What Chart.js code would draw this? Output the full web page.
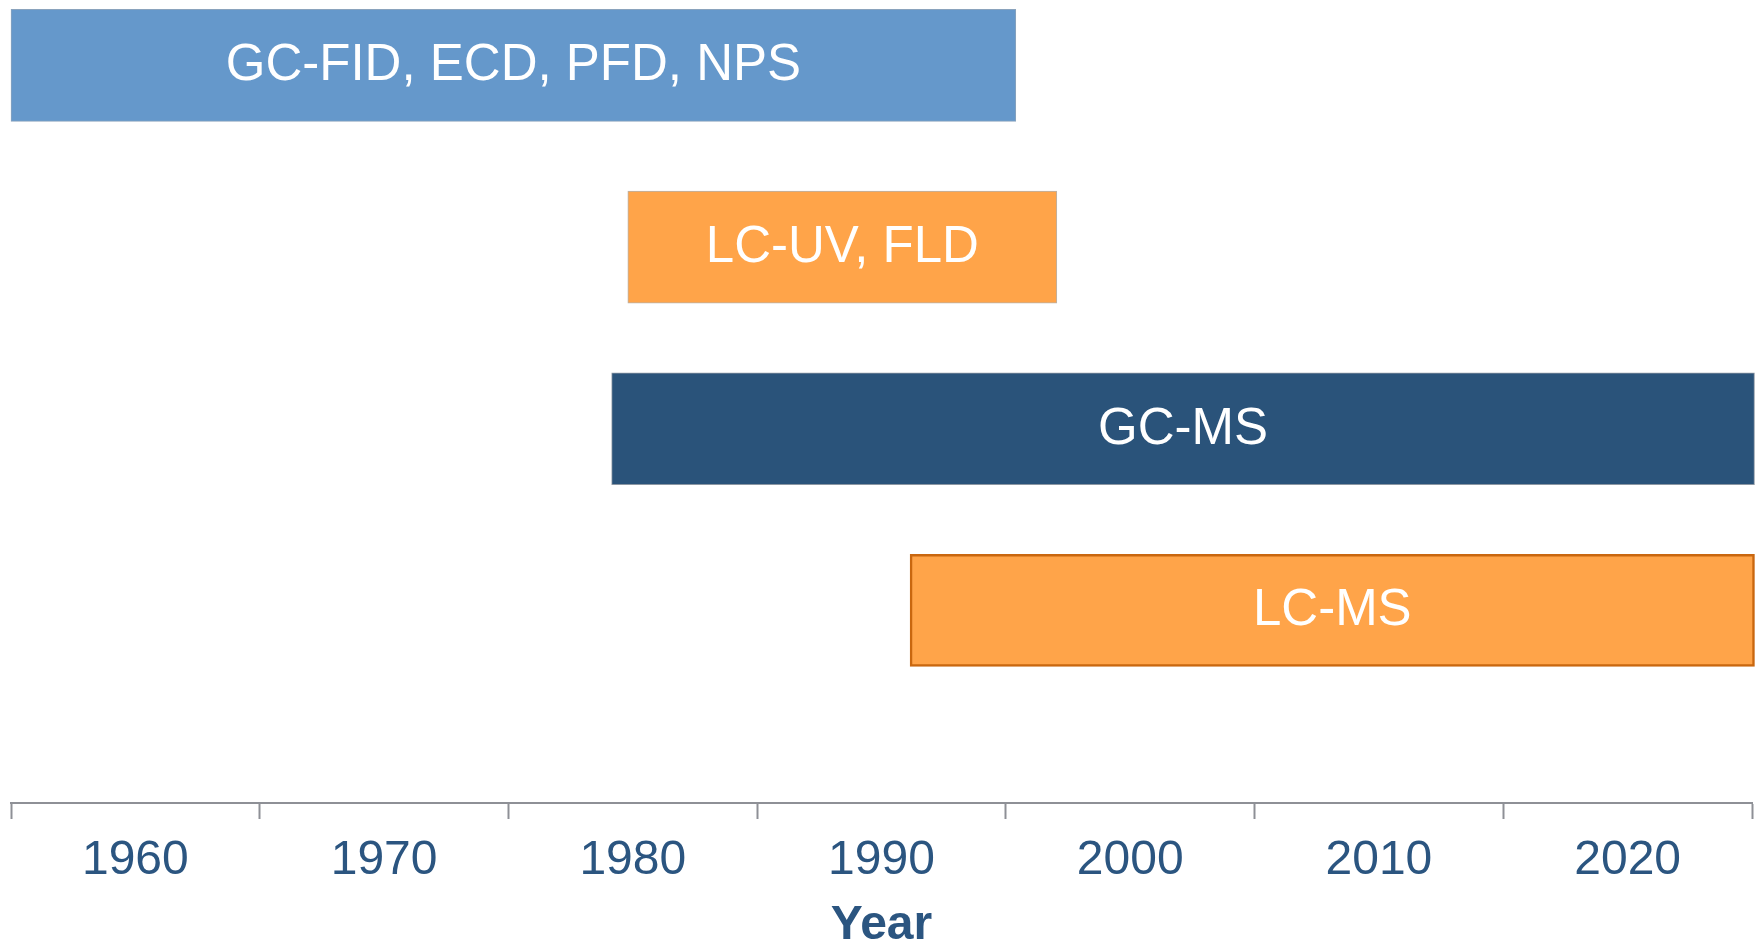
<!DOCTYPE html>
<html>
<head>
<meta charset="utf-8">
<script src="https://cdn.jsdelivr.net/npm/chart.js@4"></script>
<style>
  html, body { margin: 0; padding: 0; background: #ffffff; }
  #wrap { width: 1759px; height: 945px; position: relative; }
</style>
</head>
<body>
<div id="wrap"><canvas id="myChart"></canvas></div>
<script>
// techniques, one bar per row (top to bottom)
const techniques = ['GC-FID, ECD, PFD, NPS', 'LC-UV, FLD', 'GC-MS', 'LC-MS'];
const startYears = [1955, 1979.8, 1979.15, 1991.15];
const endYears = [1995.4, 1997.05, 2025.1, 2025.1];

// axis: tick marks between decades, labels centred on the decades
const tickBounds = [1955, 1965, 1975, 1985, 1995, 2005, 2015, 2025];
const tickYears = [1960, 1970, 1980, 1990, 2000, 2010, 2020];

const fillColors = ['#6598cb', '#ffa449', '#2a537a', '#ffa449'];
const edgeColors = ['#8aa3bd', '#b9b2aa', '#8c97a3', '#c9670f'];
const edgeWidths = [1, 1, 1, 2.5];

const textBlue = '#2b5580';
const axisGrey = '#8e9096';
const fontFamily = "'Liberation Sans', Arial, sans-serif";

// write the technique name inside each bar
const barLabels = {
    id: 'barLabels',
    afterDatasetsDraw(chart) {
        const ctx = chart.ctx;
        const meta = chart.getDatasetMeta(0);
        ctx.save();
        ctx.fillStyle = '#ffffff';
        ctx.font = '51px ' + fontFamily;
        ctx.textAlign = 'center';
        ctx.textBaseline = 'middle';
        meta.data.forEach((bar, i) => {
            ctx.fillText(techniques[i], (bar.x + bar.base) / 2, bar.y + 1);
        });
        ctx.restore();
    }
};

const myChart = document.getElementById('myChart');

let barChart = new Chart(myChart, {
    type: 'bar',
    data: {
        labels: techniques,
        datasets: [{
            label: 'Techniques',
            data: techniques.map((t, i) => ({ x: [startYears[i], endYears[i]], y: i })),
            backgroundColor: fillColors,
            borderColor: edgeColors,
            borderWidth: edgeWidths,
            borderSkipped: false,
            barThickness: 112,
            clip: false
        }]
    },
    options: {
        indexAxis: 'y',
        responsive: true,
        maintainAspectRatio: false,
        animation: false,
        layout: { padding: { left: 11, right: 7, top: 0, bottom: 0 } },
        plugins: {
            legend: { display: false },
            tooltip: { enabled: false }
        },
        scales: {
            y: {
                type: 'linear',
                display: false,
                offset: false,
                reverse: true,
                min: -0.36,
                max: 4.06
            },
            x: {
                type: 'linear',
                position: 'bottom',
                min: 1955,
                max: 2025,
                afterBuildTicks: scale => {
                    scale.ticks = tickBounds.concat(tickYears)
                        .sort((a, b) => a - b)
                        .map(v => ({ value: v }));
                },
                // the end ticks carry no label, so no side padding is needed
                afterFit: scale => {
                    scale.paddingLeft = 0;
                    scale.paddingRight = 0;
                },
                ticks: {
                    autoSkip: false,
                    maxRotation: 0,
                    padding: 13,
                    color: textBlue,
                    font: { family: fontFamily, size: 48 },
                    callback: value => tickYears.includes(value) ? String(value) : ''
                },
                grid: {
                    drawOnChartArea: false,
                    drawTicks: true,
                    tickLength: 16,
                    tickWidth: 2,
                    tickColor: c => (c.tick && tickBounds.includes(c.tick.value)) ? axisGrey : 'rgba(0,0,0,0)'
                },
                border: { display: true, color: axisGrey, width: 2 },
                title: {
                    display: true,
                    text: 'Year',
                    color: textBlue,
                    padding: { top: 4, bottom: 0 },
                    font: { family: fontFamily, size: 48, weight: 'bold', lineHeight: 0.8 }
                }
            }
        }
    },
    plugins: [barLabels]
});
</script>
</body>
</html>
